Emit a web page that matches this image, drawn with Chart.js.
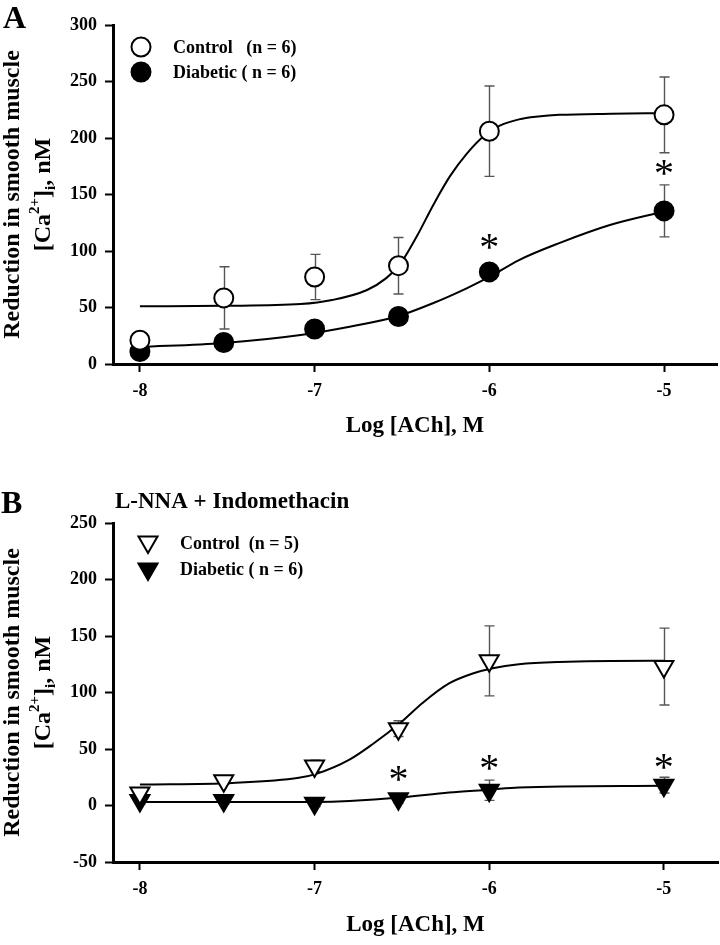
<!DOCTYPE html>
<html><head><meta charset="utf-8">
<script src="https://cdn.jsdelivr.net/npm/chart.js@4.4.1/dist/chart.umd.min.js"></script>
<style>
html,body{margin:0;padding:0;background:#fff;}
#wrap{position:relative;width:720px;height:945px;background:#fff;overflow:hidden}
canvas{position:absolute;left:0}
#cA{top:0}
#cB{top:470px}
</style></head><body>
<div id="wrap"><canvas id="cA" width="720" height="470"></canvas><canvas id="cB" width="720" height="475"></canvas></div>
<script>
// ---------- data ----------
const logACh = [-8, -7.52, -7, -6.52, -6, -5];
const xTickValues = [-8, -7, -6, -5];
const yTicksA = [0, 50, 100, 150, 200, 250, 300];
const yTicksB = [-50, 0, 50, 100, 150, 200, 250];

// Panel A
const controlA = [21, 58.5, 77, 87, 206, 220.5];
const controlA_sem = [4, 27.5, 20, 25, 40, 33.5];
const diabeticA = [11, 19, 31, 42, 81.5, 135.5];
const diabeticA_sem = [3, 6, 4, 4, 5, 23];
// fitted curves, points
const controlA_fitX = [-8, -7.52, -7.08, -6.9, -6.7, -6.59, -6.51, -6.415, -6.32, -6.226, -6.13, -6.015, -5.94, -5.83, -5.72, -5.6, -5.3, -5];
const controlA_fitY = [51, 51.5, 53, 56.6, 65.5, 76, 88.5, 113, 141, 166, 186, 204, 211, 216.5, 219, 220.5, 221.5, 222];
const diabeticA_fitX = [-8, -7.52, -7.08, -6.8, -6.53, -6.32, -6.13, -6.0, -5.83, -5.6, -5.31, -5];
const diabeticA_fitY = [15, 18.6, 25.7, 33, 42, 54, 67, 77, 92, 107, 123, 135];
const starsA_x = [-6, -5];
const starsA_y = [108, 173.5];

// Panel B
const controlB = [11, 22, 35, 68, 128, 123];
const controlB_sem = [3, 3, 5, 7, 31, 34];
const diabeticB = [4.5, 4.5, 2, 6, 13.5, 18];
const diabeticB_sem = [3, 3, 3, 4, 9, 7];
const controlB_fitX = [-8, -7.47, -7.09, -6.99, -6.8, -6.67, -6.51, -6.38, -6.23, -6.09, -5.98, -5.83, -5.6, -5.06, -5];
const controlB_fitY = [18.5, 20, 24.5, 28, 40.6, 54, 73, 91, 108, 117, 121.5, 125, 127, 128, 128];
const diabeticB_fitX = [-8, -7, -6.8, -6.51, -6.23, -6, -5.83, -5];
const diabeticB_fitY = [3, 3.2, 4, 7, 11.5, 14, 16, 17.5];
const starsB_x = [-6.52, -6, -5];
const starsB_y = [28, 38, 39];

// ---------- drawing ----------
const SERIF = "'Liberation Serif', 'Times New Roman', serif";
const pts = (xs, ys) => xs.map((x, i) => ({x: x, y: ys[i]}));

function drawMarker(ctx, style, x, y, r, filled) {
  ctx.save();
  ctx.beginPath();
  if (style === 'circle') {
    ctx.arc(x, y, r, 0, Math.PI * 2);
  } else {
    ctx.moveTo(x, y + r);
    ctx.lineTo(x - r * Math.sin(Math.PI / 3), y - r / 2);
    ctx.lineTo(x + r * Math.sin(Math.PI / 3), y - r / 2);
    ctx.closePath();
  }
  ctx.fillStyle = filled ? '#000' : '#fff';
  ctx.fill();
  ctx.lineWidth = 2;
  ctx.strokeStyle = '#000';
  ctx.stroke();
  ctx.restore();
}

function drawRich(ctx, parts, cx, baseline) {
  let total = 0;
  parts.forEach(p => { ctx.font = 'bold ' + p.size + 'px ' + SERIF; p.w = ctx.measureText(p.t).width; total += p.w; });
  ctx.save();
  ctx.translate(baseline, cx);
  ctx.rotate(-Math.PI / 2);
  let x = -total / 2;
  ctx.fillStyle = '#000';
  ctx.textBaseline = 'alphabetic';
  ctx.textAlign = 'left';
  parts.forEach(p => {
    ctx.font = 'bold ' + p.size + 'px ' + SERIF;
    ctx.fillText(p.t, x, p.dy || 0);
    x += p.w;
  });
  ctx.restore();
}

function makePanel(id, cfg) {
  const decor = {
    id: 'decor',
    beforeDatasetsDraw(chart) {
      const ctx = chart.ctx, xs = chart.scales.x, ys = chart.scales.y;
      ctx.save();
      ctx.strokeStyle = '#555';
      ctx.lineWidth = 1.4;
      cfg.errors.forEach(e => {
        logACh.forEach((lx, i) => {
          const px = Math.round(xs.getPixelForValue(lx)) + 0.5;
          const top = ys.getPixelForValue(e.mean[i] + e.sem[i]);
          const bot = ys.getPixelForValue(e.mean[i] - e.sem[i]);
          ctx.beginPath();
          ctx.moveTo(px, top); ctx.lineTo(px, bot);
          ctx.moveTo(px - 5, top); ctx.lineTo(px + 5, top);
          ctx.moveTo(px - 5, bot); ctx.lineTo(px + 5, bot);
          ctx.stroke();
        });
      });
      ctx.restore();
    },
    afterDatasetsDraw(chart) {
      const ctx = chart.ctx, xs = chart.scales.x, ys = chart.scales.y, ca = chart.chartArea;
      ctx.save();
      ctx.font = '40px ' + SERIF;
      ctx.fillStyle = '#000';
      ctx.textAlign = 'center';
      ctx.textBaseline = 'alphabetic';
      const m = ctx.measureText('*');
      const off = (m.actualBoundingBoxAscent - m.actualBoundingBoxDescent) / 2;
      cfg.starsX.forEach((sx, i) => {
        ctx.fillText('*', xs.getPixelForValue(sx), ys.getPixelForValue(cfg.starsY[i]) + off);
      });
      ctx.textAlign = 'left';
      ctx.font = 'bold 32px ' + SERIF;
      ctx.fillText(cfg.letter, cfg.letterX, cfg.letterY);
      if (cfg.subtitle) {
        ctx.font = 'bold 23px ' + SERIF;
        ctx.fillText(cfg.subtitle, 115, cfg.subtitleY);
      }
      cfg.legend.forEach(l => {
        drawMarker(ctx, cfg.markerStyle, l.mx, l.my, cfg.markerR, l.filled);
        ctx.font = 'bold 18px ' + SERIF;
        ctx.fillStyle = '#000';
        ctx.textAlign = 'left';
        ctx.textBaseline = 'alphabetic';
        ctx.fillText(l.text, l.tx, l.ty);
      });
      const cy = (ca.top + ca.bottom) / 2;
      drawRich(ctx, [{t: 'Reduction in smooth muscle', size: 24}], cy, 19);
      drawRich(ctx, [
        {t: '[Ca', size: 24},
        {t: '2+', size: 15, dy: -11},
        {t: ']', size: 24},
        {t: 'i', size: 15, dy: 5},
        {t: ', nM', size: 24}
      ], cy, 50);
      ctx.restore();
    }
  };

  const tickFont = {family: SERIF, size: 18, weight: 'bold'};
  const ptStyle = cfg.markerStyle === 'circle' ? 'circle' : 'triangle';
  const rot = cfg.markerStyle === 'circle' ? 0 : 180;
  return new Chart(document.getElementById(id), {
    type: 'scatter',
    data: {
      datasets: [
        {label: cfg.names[0], data: pts(logACh, cfg.control), pointStyle: ptStyle, rotation: rot,
         pointRadius: cfg.markerR, pointBackgroundColor: '#fff', pointBorderColor: '#000', pointBorderWidth: 2, showLine: false},
        {label: cfg.names[1], data: pts(logACh, cfg.diabetic), pointStyle: ptStyle, rotation: rot,
         pointRadius: cfg.markerR, pointBackgroundColor: '#000', pointBorderColor: '#000', pointBorderWidth: 2, showLine: false},
        {label: 'fit control', data: pts(cfg.cFitX, cfg.cFitY), showLine: true, pointRadius: 0, borderColor: '#000',
         borderWidth: 2, cubicInterpolationMode: 'monotone', fill: false},
        {label: 'fit diabetic', data: pts(cfg.dFitX, cfg.dFitY), showLine: true, pointRadius: 0, borderColor: '#000',
         borderWidth: 2, cubicInterpolationMode: 'monotone', fill: false}
      ]
    },
    options: {
      responsive: false, animation: false, devicePixelRatio: 1,
      layout: {autoPadding: false, padding: {top: cfg.padTop, right: cfg.padRight, left: 0, bottom: 0}},
      plugins: {legend: {display: false}, tooltip: {enabled: false}},
      scales: {
        x: {
          type: 'linear', min: -8.154, max: cfg.xMax,
          afterBuildTicks: s => { s.ticks = xTickValues.map(v => ({value: v})); },
          afterFit: s => { s.height = cfg.xHeight; s.paddingLeft = 0; s.paddingRight = 0; },
          ticks: {font: tickFont, color: '#000', padding: 9, maxRotation: 0, autoSkip: false, callback: v => String(v)},
          grid: {drawOnChartArea: false, drawTicks: true, tickLength: 8, tickWidth: 2, tickColor: '#000'},
          border: {display: true, color: '#000', width: 3},
          title: {display: true, text: 'Log [ACh], M', color: '#000', font: {family: SERIF, size: 23, weight: 'bold'},
                  padding: {top: 4, bottom: cfg.xTitlePad}}
        },
        y: {
          type: 'linear', min: cfg.yTicks[0], max: cfg.yTicks[cfg.yTicks.length - 1],
          afterBuildTicks: s => { s.ticks = cfg.yTicks.map(v => ({value: v})); },
          afterFit: s => { s.width = 113; s.paddingTop = 0; s.paddingBottom = 0; },
          ticks: {font: tickFont, color: '#000', padding: 8, callback: v => String(v)},
          grid: {drawOnChartArea: false, drawTicks: true, tickLength: 8, tickWidth: 2, tickColor: '#000'},
          border: {display: true, color: '#000', width: 3}
        }
      }
    },
    plugins: [decor]
  });
}

makePanel('cA', {
  control: controlA, diabetic: diabeticA,
  errors: [{mean: controlA, sem: controlA_sem}, {mean: diabeticA, sem: diabeticA_sem}],
  cFitX: controlA_fitX, cFitY: controlA_fitY, dFitX: diabeticA_fitX, dFitY: diabeticA_fitY,
  starsX: starsA_x, starsY: starsA_y,
  names: ['Control (n = 6)', 'Diabetic ( n = 6)'],
  markerStyle: 'circle', markerR: 9.5,
  yTicks: yTicksA, xMax: -4.697, padTop: 25, padRight: 3, xHeight: 106, xTitlePad: 30,
  letter: 'A', letterX: 3, letterY: 28,
  legend: [
    {mx: 141, my: 47, filled: false, text: 'Control   (n = 6)', tx: 173, ty: 53},
    {mx: 141, my: 72, filled: true, text: 'Diabetic ( n = 6)', tx: 173, ty: 78}
  ]
});

makePanel('cB', {
  control: controlB, diabetic: diabeticB,
  errors: [{mean: controlB, sem: controlB_sem}, {mean: diabeticB, sem: diabeticB_sem}],
  cFitX: controlB_fitX, cFitY: controlB_fitY, dFitX: diabeticB_fitX, dFitY: diabeticB_fitY,
  starsX: starsB_x, starsY: starsB_y,
  names: ['Control (n = 5)', 'Diabetic ( n = 6)'],
  markerStyle: 'triangle', markerR: 11,
  yTicks: yTicksB, xMax: -4.69, padTop: 53, padRight: 2, xHeight: 83, xTitlePad: 6,
  letter: 'B', letterX: 1, letterY: 43, subtitle: 'L-NNA + Indomethacin', subtitleY: 38,
  legend: [
    {mx: 148, my: 72, filled: false, text: 'Control  (n = 5)', tx: 180, ty: 79},
    {mx: 148, my: 99, filled: true, text: 'Diabetic ( n = 6)', tx: 180, ty: 105}
  ]
});
</script></body></html>
